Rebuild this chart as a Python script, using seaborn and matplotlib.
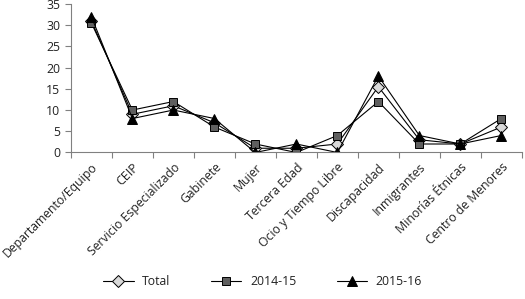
import numpy as np
import pandas as pd
import seaborn as sns
import matplotlib.pyplot as plt

categories = ["Departamento/Equipo", "CEIP", "Servicio Especializado", "Gabinete", "Mujer",
              "Tercera Edad", "Ocio y Tiempo Libre", "Discapacidad", "Inmigrantes",
              "Minorías Étnicas", "Centro de Menores"]
total = [31, 9, 11, 7, 1, 1, 2, 15.5, 3, 2, 6]
y2014_15 = [30.5, 10, 12, 6, 2, 0, 4, 12, 2, 2, 8]
y2015_16 = [32, 8, 10, 8, 0, 2, 0, 18, 4, 2, 4]

series = [("Total", total, "D", "#d9d9d9", 6),
          ("2014-15", y2014_15, "s", "#5f5f5f", 6),
          ("2015-16", y2015_16, "^", "#000000", 7)]

sns.set_theme(style="ticks")
plt.rcParams["font.family"] = ["Open Sans", "DejaVu Sans"]
plt.rcParams["text.color"] = "#222222"
plt.rcParams["xtick.labelcolor"] = "#222222"
plt.rcParams["ytick.labelcolor"] = "#222222"

fig = plt.figure(figsize=(5.25, 2.99), dpi=100)
ax = fig.add_axes([0.135, 0.49, 0.859, 0.497])

x = np.arange(len(categories))
for name, vals, mk, fc, ms in series:
    df = pd.DataFrame({"x": x, "y": vals})
    sns.lineplot(data=df, x="x", y="y", ax=ax, color="black", linewidth=0.8,
                 marker=mk, markersize=ms, markerfacecolor=fc, markeredgecolor="black",
                 markeredgewidth=0.7, label=name)

ax.set_xlim(-0.5, len(categories) - 0.5)
ax.set_ylim(0, 35)
ax.set_yticks(range(0, 36, 5))
ax.set_xticks(x)
ax.set_xticklabels(categories, rotation=45, ha="right", rotation_mode="anchor", fontsize=8.8)
ax.set_xticks(np.arange(-0.5, len(categories), 1), minor=True)
ax.tick_params(axis="x", which="major", length=0, pad=6)
ax.tick_params(axis="x", which="minor", length=4, width=0.8, color="#808080")
ax.tick_params(axis="y", length=4, width=0.8, color="#808080", labelsize=8.8)
ax.set_xlabel("")
ax.set_ylabel("")
sns.despine(ax=ax)
for s in ["left", "bottom"]:
    ax.spines[s].set_color("#808080")
    ax.spines[s].set_linewidth(0.8)

ax.get_legend().remove()
h, l = ax.get_legend_handles_labels()
fig.legend(h, l, loc="lower center", bbox_to_anchor=(0.5, 0.0), ncol=3, frameon=False,
           fontsize=8.8, columnspacing=3.3, handlelength=2.5, handletextpad=0.7)

fig.savefig("out.png", dpi=100)
